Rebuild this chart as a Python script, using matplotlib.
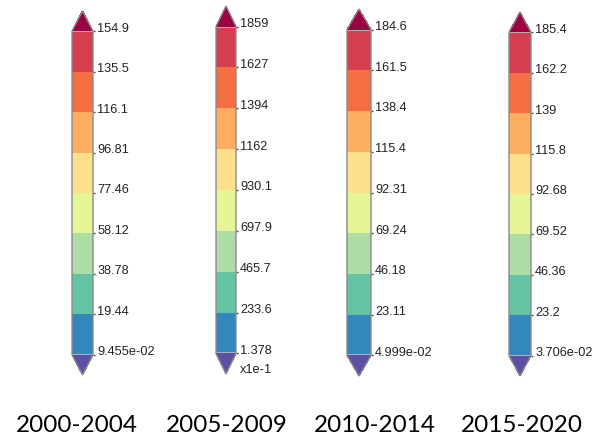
import matplotlib
matplotlib.use("Agg")
import matplotlib.pyplot as plt
from matplotlib.colors import ListedColormap, BoundaryNorm
from matplotlib.colorbar import ColorbarBase

# legend ranges for each period (segment boundaries, bottom to top)
periods = ["2000-2004", "2005-2009", "2010-2014", "2015-2020"]
bounds_2000 = [0.09455, 19.44, 38.78, 58.12, 77.46, 96.81, 116.1, 135.5, 154.9]
bounds_2005 = [1.378, 233.6, 465.7, 697.9, 930.1, 1162, 1394, 1627, 1859]
bounds_2010 = [0.04999, 23.11, 46.18, 69.24, 92.31, 115.4, 138.4, 161.5, 184.6]
bounds_2015 = [0.03706, 23.2, 46.36, 69.52, 92.68, 115.8, 139, 162.2, 185.4]
labels_2000 = ["9.455e-02", "19.44", "38.78", "58.12", "77.46", "96.81", "116.1", "135.5", "154.9"]
labels_2005 = ["1.378", "233.6", "465.7", "697.9", "930.1", "1162", "1394", "1627", "1859"]
labels_2010 = ["4.999e-02", "23.11", "46.18", "69.24", "92.31", "115.4", "138.4", "161.5", "184.6"]
labels_2015 = ["3.706e-02", "23.2", "46.36", "69.52", "92.68", "115.8", "139", "162.2", "185.4"]
scale_notes = ["", "x1e-1", "", ""]

# Spectral palette, low to high
colors = ["#3288bd", "#66c2a5", "#abdda4", "#e6f598",
          "#fee08b", "#fdae61", "#f46d43", "#d53e4f"]
under_color = "#5e4fa2"
over_color = "#9e0142"

W, H = 595, 439
fig = plt.figure(figsize=(W / 100, H / 100), dpi=100)

# pixel boxes (left, right, top, bottom) for each bar including the arrows
boxes = [(72, 93, 12, 376), (216, 236, 7, 375), (347, 371, 10, 377), (509, 531, 13, 377)]
title_x = [77, 227, 375, 522]

cmap = ListedColormap(colors).with_extremes(under=under_color, over=over_color)
all_bounds = [bounds_2000, bounds_2005, bounds_2010, bounds_2015]
all_labels = [labels_2000, labels_2005, labels_2010, labels_2015]

for i, (bounds, labels) in enumerate(zip(all_bounds, all_labels)):
    l, r, t, b = boxes[i]
    cax = fig.add_axes([l / W, 1 - b / H, (r - l) / W, (b - t) / H])
    norm = BoundaryNorm(bounds, cmap.N)
    cb = ColorbarBase(cax, cmap=cmap, norm=norm, boundaries=bounds,
                      extend="both", extendfrac=0.063, spacing="proportional",
                      ticks=bounds, orientation="vertical")
    cb.outline.set_edgecolor("#8a8a8a")
    cb.outline.set_linewidth(1.0)
    cax.axhline(bounds[0], color="#b0b0b0", lw=1.5)
    cax.axhline(bounds[-1], color="#b0b0b0", lw=1.5)
    cax.tick_params(axis="y", length=1.5, width=1, color="#444444",
                    labelright=False, right=True, left=False)
    for v, s in zip(bounds, labels):
        cax.annotate(s, xy=(1, v), xycoords=("axes fraction", "data"),
                     xytext=(3, 0.5), textcoords="offset points",
                     ha="left", va="baseline", fontsize=9.2,
                     family="Liberation Sans", color="#222222")
    if scale_notes[i]:
        # multiplier note sits beside the lower arrow
        cax.annotate(scale_notes[i], xy=(1, 0), xycoords="axes fraction",
                     xytext=(3, -11), textcoords="offset points",
                     ha="left", va="center", fontsize=9.2,
                     family="Liberation Sans", color="#222222")
    fig.text(title_x[i] / W, 1 - 432 / H, periods[i], ha="center",
             va="baseline", fontsize=17.5, family="Lato", color="black")

fig.savefig("out.png", dpi=100)
